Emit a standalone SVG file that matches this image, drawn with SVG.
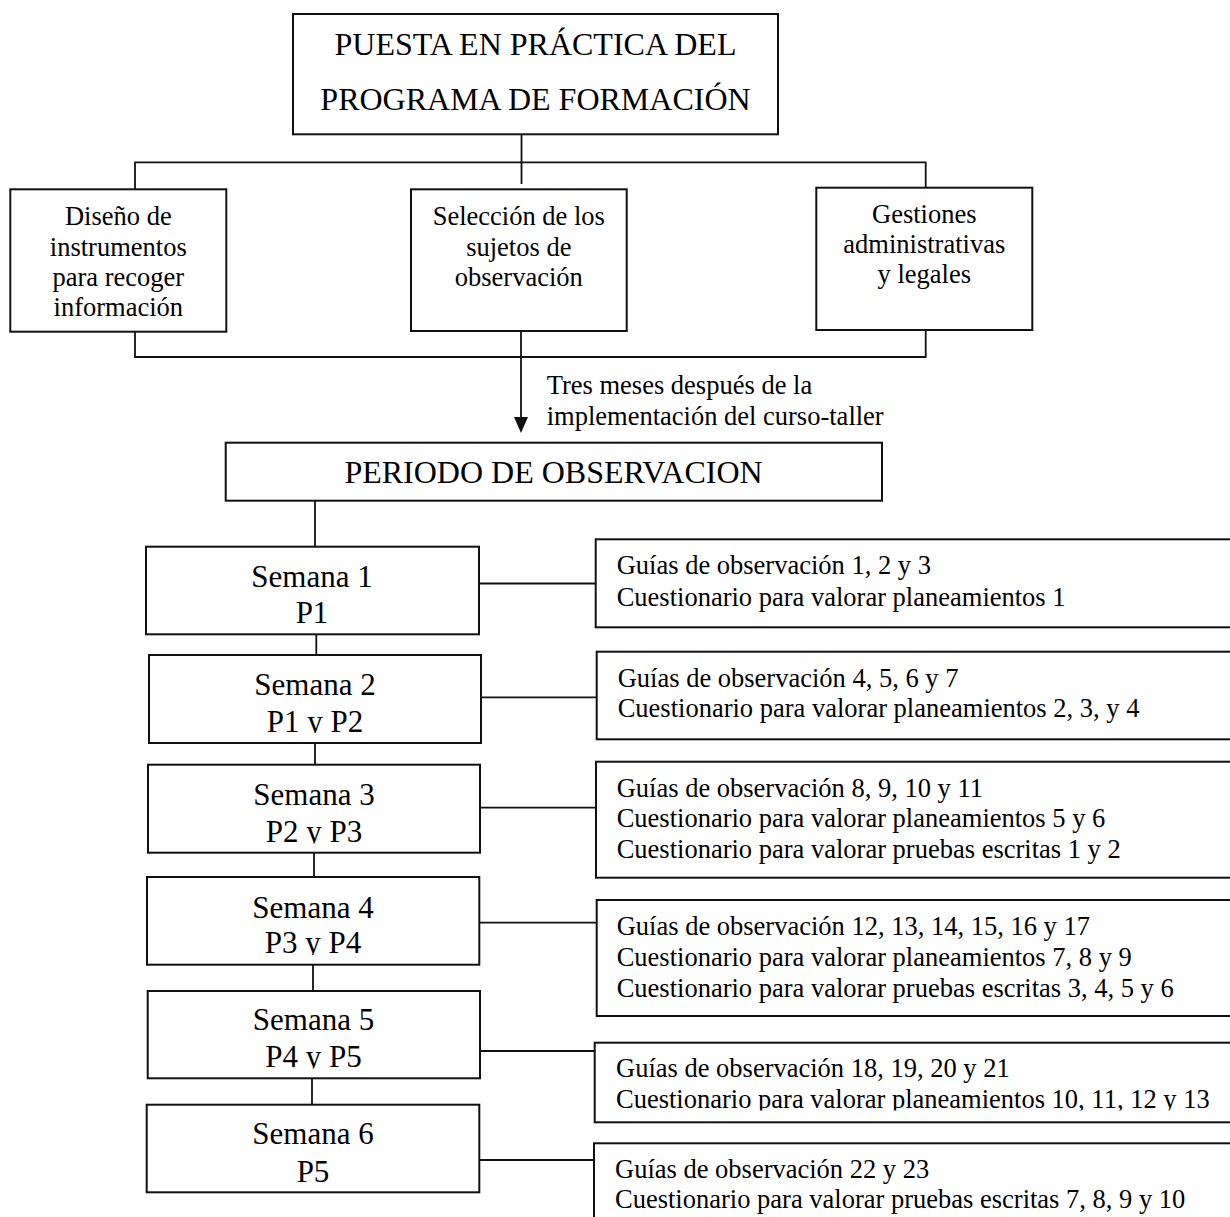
<svg xmlns="http://www.w3.org/2000/svg" width="1230" height="1217" viewBox="0 0 1230 1217">
<style>
  .box { fill: #fff; stroke: #111; stroke-width: 2; }
  .conn { fill: none; stroke: #111; stroke-width: 1.8; }
  text { font-family: "Liberation Serif", "Times New Roman", serif; fill: #000; }
  .title { font-size: 32px; text-anchor: middle; }
  .week { font-size: 31px; text-anchor: middle; }
  .small { font-size: 26.5px; }
  .mid { text-anchor: middle; }
</style>
<defs>
  <marker id="arrow" markerUnits="userSpaceOnUse" viewBox="0 -7 16 14" markerWidth="16" markerHeight="14" refX="3" refY="0" orient="auto" overflow="visible">
    <path d="M0,-7 L16,0 L0,7 z" fill="#111"/>
  </marker>
  <clipPath id="clipS2"><rect x="149" y="655" width="332" height="78"/></clipPath>
  <clipPath id="clipS3"><rect x="148" y="765" width="332" height="78.5"/></clipPath>
  <clipPath id="clipS4"><rect x="147" y="877" width="333" height="78"/></clipPath>
  <clipPath id="clipS5"><rect x="148" y="991" width="332" height="77.5"/></clipPath>
  <clipPath id="clipR5"><rect x="595" y="1043" width="640" height="67.5"/></clipPath>
</defs>
<rect width="1230" height="1217" fill="#fff"/>

<g id="connectors">
  <path class="conn" d="M521.5 134 V184"/>
  <path class="conn" d="M135 189 V162.3 H925.7 V188"/>
  <path class="conn" d="M135 331.7 V357 H925.7 V330"/>
  <path class="conn" d="M521 331 V420" marker-end="url(#arrow)"/>
  <path class="conn" d="M315 500.7 V546.7"/>
  <path class="conn" d="M316.3 634.3 V655"/>
  <path class="conn" d="M315 743 V764.7"/>
  <path class="conn" d="M314 852.7 V877"/>
  <path class="conn" d="M313 964.7 V991"/>
  <path class="conn" d="M312 1078.3 V1104.7"/>
  <path class="conn" d="M479 583.5 H596"/>
  <path class="conn" d="M481 697.3 H596.7"/>
  <path class="conn" d="M480 807.7 H596"/>
  <path class="conn" d="M479.3 922.7 H596.7"/>
  <path class="conn" d="M480 1051 H594.7"/>
  <path class="conn" d="M479.3 1160 H594"/>
</g>

<g id="label-tres-meses">
  <text class="small" x="546.7" y="394">Tres meses después de la</text>
  <text class="small" x="546.7" y="425">implementación del curso-taller</text>
</g>

<g id="node-puesta">
  <rect class="box" x="293" y="14" width="485" height="120.3"/>
  <text class="title" x="535.5" y="55">PUESTA EN PRÁCTICA DEL</text>
  <text class="title" x="535.5" y="110">PROGRAMA DE FORMACIÓN</text>
</g>

<g id="node-diseno">
  <rect class="box" x="10.3" y="189.3" width="216" height="142.4"/>
  <text class="small mid" x="118.3" y="225">Diseño de</text>
  <text class="small mid" x="118.3" y="256">instrumentos</text>
  <text class="small mid" x="118.3" y="286">para recoger</text>
  <text class="small mid" x="118.3" y="316">información</text>
</g>

<g id="node-seleccion">
  <rect class="box" x="411" y="189.3" width="215.7" height="141.7"/>
  <text class="small mid" x="518.8" y="225">Selección de los</text>
  <text class="small mid" x="518.8" y="256">sujetos de</text>
  <text class="small mid" x="518.8" y="286">observación</text>
</g>

<g id="node-gestiones">
  <rect class="box" x="816.3" y="187.7" width="216" height="142.3"/>
  <text class="small mid" x="924.3" y="222.7">Gestiones</text>
  <text class="small mid" x="924.3" y="253.3">administrativas</text>
  <text class="small mid" x="924.3" y="283.3">y legales</text>
</g>

<g id="node-periodo">
  <rect class="box" x="225.7" y="442.7" width="656.3" height="58"/>
  <text class="title" x="553.5" y="483.3">PERIODO DE OBSERVACION</text>
</g>

<g id="node-semana1">
  <rect class="box" x="146" y="546.7" width="333" height="87.6"/>
  <text class="week" x="312" y="586.7">Semana 1</text>
  <text class="week" x="312" y="623.3">P1</text>
</g>

<g id="node-semana2">
  <rect class="box" x="149" y="655" width="332" height="88"/>
  <text class="week" x="315" y="695">Semana 2</text>
  <text class="week" x="315" y="731.7" clip-path="url(#clipS2)">P1 y P2</text>
</g>

<g id="node-semana3">
  <rect class="box" x="148" y="764.7" width="332" height="88"/>
  <text class="week" x="314" y="805">Semana 3</text>
  <text class="week" x="314" y="841.7" clip-path="url(#clipS3)">P2 y P3</text>
</g>

<g id="node-semana4">
  <rect class="box" x="147" y="877" width="332.3" height="87.7"/>
  <text class="week" x="313" y="917.7">Semana 4</text>
  <text class="week" x="313" y="953.3" clip-path="url(#clipS4)">P3 y P4</text>
</g>

<g id="node-semana5">
  <rect class="box" x="147.7" y="991" width="332.3" height="87.3"/>
  <text class="week" x="313.5" y="1030">Semana 5</text>
  <text class="week" x="313.5" y="1066.7" clip-path="url(#clipS5)">P4 y P5</text>
</g>

<g id="node-semana6">
  <rect class="box" x="146.7" y="1104.7" width="332.6" height="87.6"/>
  <text class="week" x="313" y="1144.3">Semana 6</text>
  <text class="week" x="313" y="1181.7">P5</text>
</g>

<g id="node-instr1">
  <rect class="box" x="595.7" y="539.3" width="660" height="88"/>
  <text class="small" x="616.7" y="574">Guías de observación 1, 2 y 3</text>
  <text class="small" x="616.7" y="606">Cuestionario para valorar planeamientos 1</text>
</g>

<g id="node-instr2">
  <rect class="box" x="596.7" y="651.7" width="660" height="87.6"/>
  <text class="small" x="617.7" y="686.7">Guías de observación 4, 5, 6 y 7</text>
  <text class="small" x="617.7" y="717.3">Cuestionario para valorar planeamientos 2, 3, y 4</text>
</g>

<g id="node-instr3">
  <rect class="box" x="596" y="761.7" width="660" height="116"/>
  <text class="small" x="616.7" y="796.7">Guías de observación 8, 9, 10 y 11</text>
  <text class="small" x="616.7" y="827.3">Cuestionario para valorar planeamientos 5 y 6</text>
  <text class="small" x="616.7" y="858.3">Cuestionario para valorar pruebas escritas 1 y 2</text>
</g>

<g id="node-instr4">
  <rect class="box" x="596.7" y="900" width="660" height="116"/>
  <text class="small" x="616.7" y="935">Guías de observación 12, 13, 14, 15, 16 y 17</text>
  <text class="small" x="616.7" y="966">Cuestionario para valorar planeamientos 7, 8 y 9</text>
  <text class="small" x="616.7" y="996.7">Cuestionario para valorar pruebas escritas 3, 4, 5 y 6</text>
</g>

<g id="node-instr5">
  <rect class="box" x="594.7" y="1042.7" width="660" height="79.6"/>
  <text class="small" x="616" y="1077.3">Guías de observación 18, 19, 20 y 21</text>
  <text class="small" x="616" y="1108.3" clip-path="url(#clipR5)">Cuestionario para valorar planeamientos 10, 11, 12 y 13</text>
</g>

<g id="node-instr6">
  <rect class="box" x="594" y="1143.3" width="660" height="100"/>
  <text class="small" x="615" y="1177.7">Guías de observación 22 y 23</text>
  <text class="small" x="615" y="1208.3">Cuestionario para valorar pruebas escritas 7, 8, 9 y 10</text>
</g>
</svg>
